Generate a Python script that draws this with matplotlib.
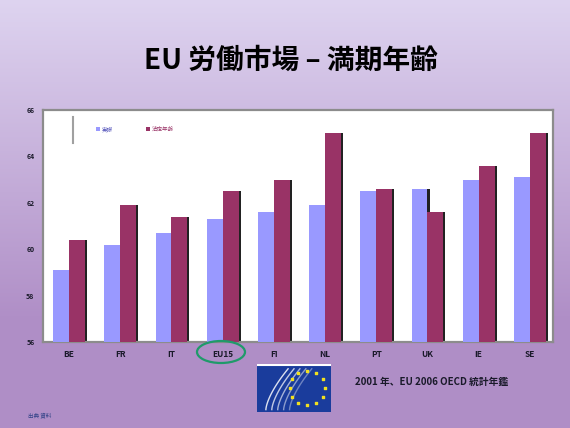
import numpy as np
import matplotlib.pyplot as plt
from matplotlib.patches import Ellipse, Rectangle
from matplotlib.lines import Line2D

plt.rcParams['font.family'] = ['Noto Sans CJK JP', 'DejaVu Sans']

countries = ["BE", "FR", "IT", "EU15", "FI", "NL", "PT", "UK", "IE", "SE"]
actual_age = [59.1, 60.2, 60.7, 61.3, 61.6, 61.9, 62.5, 62.6, 63.0, 63.1]
legal_age = [60.4, 61.9, 61.4, 62.5, 63.0, 65.0, 62.6, 61.6, 63.6, 65.0]
series_names = ["実際", "法定年齢"]
yticks = [56, 58, 60, 62, 64, 66]

fig = plt.figure(figsize=(5.7, 4.28), dpi=100)

# slide background: vertical lavender gradient
bg = fig.add_axes([0, 0, 1, 1], zorder=-10)
grad = np.linspace(0, 1, 256).reshape(-1, 1)
top = np.array([0.87, 0.83, 0.94])
bot = np.array([0.69, 0.56, 0.78])
img = top + (bot - top) * np.clip(grad * 1.35, 0, 1)[..., None]
bg.imshow(img.reshape(256, 1, 3), aspect="auto", extent=[0, 1, 0, 1])
bg.set_xlim(0, 1)
bg.set_ylim(0, 1)
bg.axis("off")

fig.text(0.51, 0.858, "EU 労働市場 – 満期年齢", ha="center", va="center",
         fontsize=20, fontweight="bold", color="black")

ax = fig.add_axes([0.0754, 0.201, 0.8946, 0.542])
ax.set_facecolor("white")
x = np.arange(len(countries))
w = 0.31
ax.bar(x - w / 2 + 0.04, np.array(actual_age) - yticks[0], w, bottom=yticks[0], color="#222222", zorder=2)
ax.bar(x + w / 2 + 0.04, np.array(legal_age) - yticks[0], w, bottom=yticks[0], color="#222222", zorder=2)
ax.bar(x - w / 2, np.array(actual_age) - yticks[0], w, bottom=yticks[0], color="#9999ff",
       label=series_names[0], zorder=3)
ax.bar(x + w / 2, np.array(legal_age) - yticks[0], w, bottom=yticks[0], color="#993366",
       label=series_names[1], zorder=3)

ax.set_xlim(-0.51, 9.45)
ax.set_ylim(yticks[0], yticks[-1])
ax.set_yticks(yticks)
ax.set_yticklabels([str(t) for t in yticks], fontsize=5, fontweight="bold")
ax.set_xticks(x)
ax.set_xticklabels(countries, fontsize=6, fontweight="bold")
ax.tick_params(axis="both", length=0, pad=6, colors="#1a1a2a")
for s in ax.spines.values():
    s.set_color("#8c8c8c")
    s.set_linewidth(1.6)

leg = ax.legend(ncol=2, fontsize=4, frameon=False, loc="upper left",
                bbox_to_anchor=(0.095, 0.95), handlelength=0.6, handleheight=0.6,
                columnspacing=6, handletextpad=0.4)
for t, c in zip(leg.get_texts(), ["#5555bb", "#993366"]):
    t.set_color(c)
fig.add_artist(Line2D([73 / 570, 73 / 570], [1 - 117 / 428, 1 - 143 / 428],
                      color="#a0a0a0", lw=1.5))

# green ellipse around the EU15 label
fig.add_artist(Ellipse((221 / 570, 1 - 352 / 428), 48 / 570, 22 / 428,
                       fill=False, ec="#1f9a6a", lw=1.6))

# EU logo block
logo = fig.add_axes([257 / 570, 1 - 412 / 428, 74 / 570, 48 / 428])
logo.set_xlim(0, 1)
logo.set_ylim(0, 1)
logo.add_patch(Rectangle((0, 0), 1, 1, color="#1a3c9c"))
ang = np.linspace(0, 2 * np.pi, 12, endpoint=False)
logo.scatter(0.68 + 0.24 * np.cos(ang), 0.5 + 0.36 * np.sin(ang), s=3,
             marker="s", color="#f0e020", zorder=3)
for k in range(5):
    t = np.linspace(0, 1, 40)
    logo.plot(0.12 + 0.08 * k + 0.3 * t ** 1.5, 0.05 + 0.85 * t, color="white",
              lw=1.0, alpha=0.85 - 0.12 * k)
logo.axhline(0.97, color="white", lw=1.5)
logo.axis("off")

fig.text(0.622, 1 - 382 / 428, "2001 年、EU 2006 OECD 統計年鑑", fontsize=7,
         fontweight="bold", color="#1a1a2a", va="center")
fig.text(0.05, 1 - 415 / 428, "出典 資料", fontsize=4, color="#334488", va="center")

fig.savefig("out.png", dpi=100)
